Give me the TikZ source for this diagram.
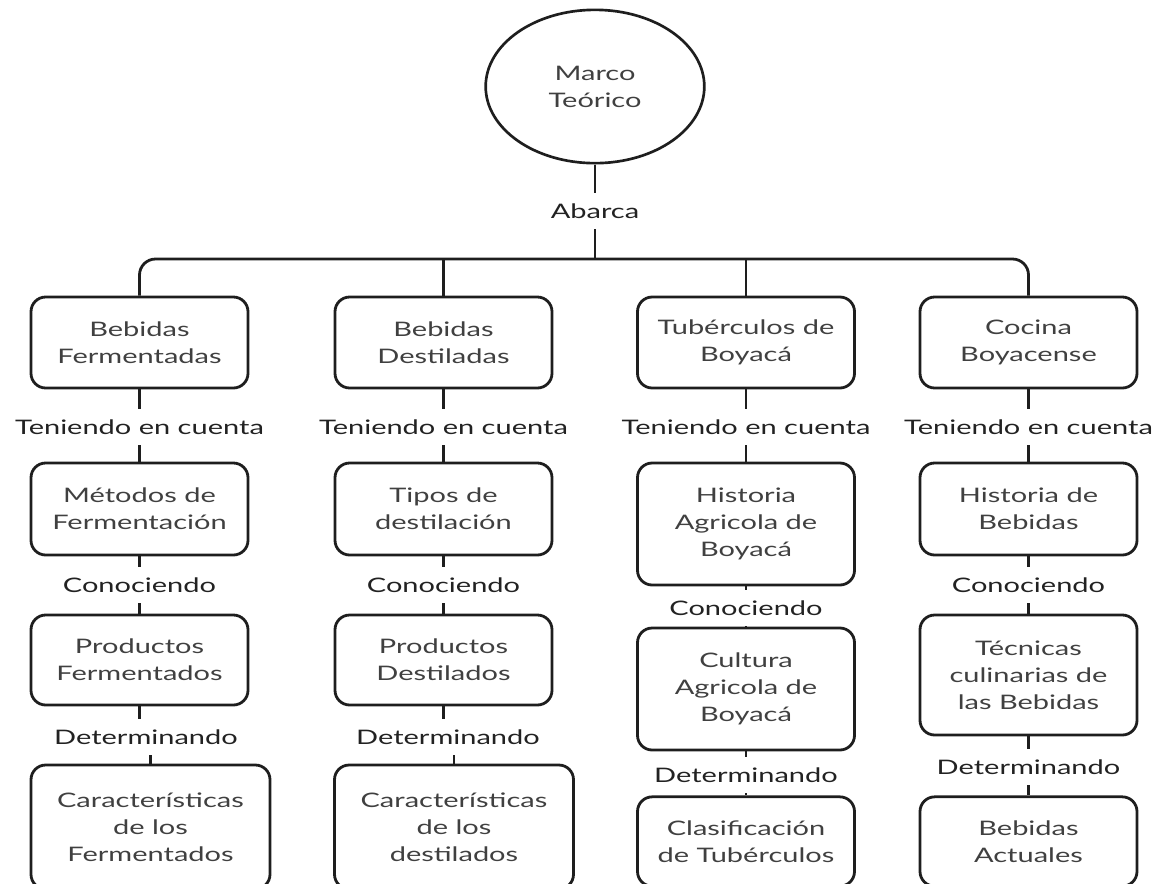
\documentclass[tikz,border=0pt]{standalone}
\usepackage{fontspec}
\setmainfont{Lato}[FakeStretch=1.45]
\usetikzlibrary{shapes.geometric}
\definecolor{linec}{HTML}{1E1E1E}
\definecolor{boxtext}{HTML}{404040}
\definecolor{labtext}{HTML}{222222}
\begin{document}
\begin{tikzpicture}[x=0.75pt,y=-0.75pt,
  txt/.style={font=\fontsize{15}{20.25}\selectfont},
  box/.style={txt,draw=linec,line width=2.1pt,rounded corners=11pt,align=center,
    text=boxtext,inner sep=0pt,minimum width=162.75pt},
  widebox/.style={box,minimum width=179.25pt},
  ell/.style={txt,draw=linec,line width=2pt,ellipse,align=center,text=boxtext,
    inner sep=0pt,minimum width=164pt,minimum height=115pt},
  lab/.style={txt,text=labtext,inner sep=0pt,minimum height=27pt},
  conn/.style={draw=linec,line width=2.1pt}]
\useasboundingbox (0,0) rectangle (1156,883);
\clip (0,0) rectangle (1156,883);
% top
\node[ell] (m) at (595,86.5) {Marco\\Teórico};
\node[lab] (ab) at (595,211) {Abarca};
\coordinate (bar) at (595,259);
% row 1
\node[box,minimum height=68.25pt] (a1) at (139.5,342.5) {Bebidas\\Fermentadas};
\node[box,minimum height=68.25pt] (b1) at (443.5,342.5) {Bebidas\\Destiladas};
\node[box,minimum height=68.25pt] (c1) at (746,342.5) {Tubérculos de\\Boyacá};
\node[box,minimum height=68.25pt] (d1) at (1028.5,342.5) {Cocina\\Boyacense};
% teniendo
\node[lab] (ta) at (139.5,427) {Teniendo en cuenta};
\node[lab] (tb) at (443.5,427) {Teniendo en cuenta};
\node[lab] (tc) at (746,427) {Teniendo en cuenta};
\node[lab] (td) at (1028.5,427) {Teniendo en cuenta};
% row 2
\node[box,minimum height=69pt] (a2) at (139.5,509) {Métodos de\\Fermentación};
\node[box,minimum height=69pt] (b2) at (443.5,509) {Tipos de\\destilación};
\node[box,minimum height=91.5pt] (c2) at (746,524) {Historia\\Agricola de\\Boyacá};
\node[box,minimum height=69pt] (d2) at (1028.5,509) {Historia de\\Bebidas};
% conociendo
\node[lab] (ka) at (139.5,585) {Conociendo};
\node[lab] (kb) at (443.5,585) {Conociendo};
\node[lab] (kc) at (746,608) {Conociendo};
\node[lab] (kd) at (1028.5,585) {Conociendo};
% row 3
\node[box,minimum height=67.5pt] (a3) at (139.5,660) {Productos\\Fermentados};
\node[box,minimum height=67.5pt] (b3) at (443.5,660) {Productos\\Destilados};
\node[box,minimum height=91.5pt] (c3) at (746,689) {Cultura\\Agricola de\\Boyacá};
\node[box,minimum height=90pt] (d3) at (1028.5,675) {Técnicas\\culinarias de\\las Bebidas};
% determinando
\node[lab] (da) at (146,737) {Determinando};
\node[lab] (db) at (448,737) {Determinando};
\node[lab] (dc) at (746,775) {Determinando};
\node[lab] (dd) at (1028.5,767) {Determinando};
% row 4
\node[widebox,minimum height=93pt] (a4) at (150.5,827) {Características\\de los\\Fermentados};
\node[widebox,minimum height=93pt] (b4) at (454,827) {Características\\de los\\destilados};
\node[box,minimum height=67pt] (c4) at (746,841.5) {Clasificación\\de Tubérculos};
\node[box,minimum height=67pt] (d4) at (1028.5,841.5) {Bebidas\\Actuales};
% connectors top
\draw[conn] (m) -- (ab);
\draw[conn] (ab) -- (bar);
\draw[conn,rounded corners=12pt] (a1.north) |- (bar) -| (d1.north);
\draw[conn] (b1.north) -- (b1.north |- bar);
\draw[conn] (c1.north) -- (c1.north |- bar);
% column connectors
\foreach \col in {a,b,c,d}{
  \draw[conn] (\col1) -- (t\col);
  \draw[conn] (t\col) -- (\col2);
  \draw[conn] (\col2) -- (k\col);
  \draw[conn] (k\col) -- (\col3);
}
\draw[conn] (c3) -- (dc);
\draw[conn] (dc) -- (c4);
\draw[conn] (d3) -- (dd);
\draw[conn] (dd) -- (d4);
\draw[conn] (a3.south) -- (a3.south |- da.north);
\draw[conn] (da.south -| a4.north) -- (a4.north);
\draw[conn] (b3.south) -- (b3.south |- db.north);
\draw[conn] (db.south -| b4.north) -- (b4.north);
\end{tikzpicture}
\end{document}
